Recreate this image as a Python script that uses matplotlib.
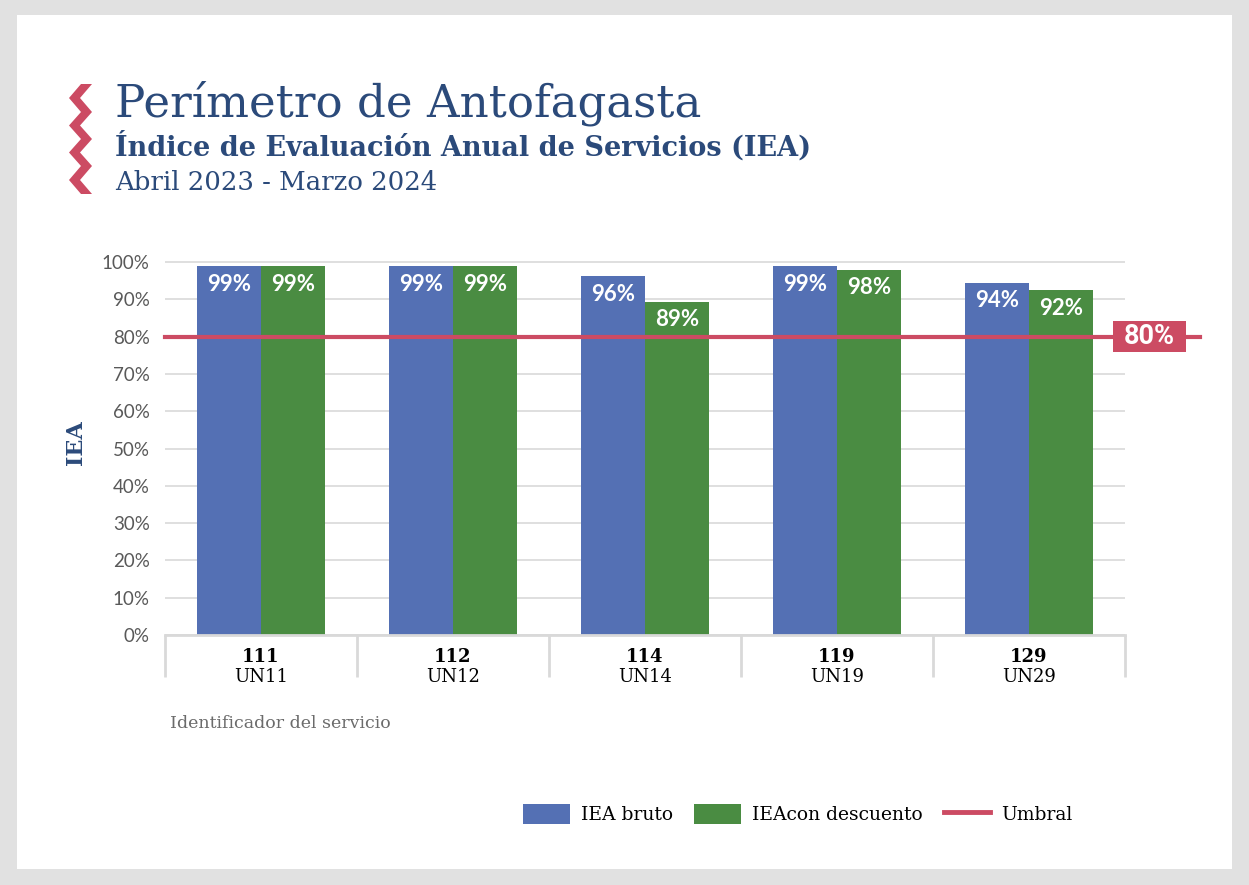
import numpy as np
import matplotlib
matplotlib.use("Agg")
import matplotlib.pyplot as plt
from matplotlib.patches import Rectangle, Polygon, Patch
from matplotlib.lines import Line2D
from matplotlib.ticker import MultipleLocator, PercentFormatter

# data
service_ids = ["111", "112", "114", "119", "129"]
service_units = ["UN11", "UN12", "UN14", "UN19", "UN29"]
iea_bruto = [0.989, 0.989, 0.962, 0.989, 0.944]
iea_descuento = [0.988, 0.988, 0.893, 0.979, 0.924]
umbral = 0.80

BLUE = "#5470b4"
GREEN = "#4a8c42"
RED = "#cc4b63"
NAVY = "#2b4a7a"
GRID = "#d9d9d9"
TICK_GRAY = "#595959"

W, H = 1249, 885
SERIF = "DejaVu Serif"


def fx(px):
    return px / W


def fy(py):
    return 1 - py / H


fig = plt.figure(figsize=(W / 100, H / 100), dpi=100, facecolor="#e1e1e1")

# white panel
fig.patches.append(Rectangle((fx(17), fy(869)), fx(1232) - fx(17), fy(15) - fy(869),
                             transform=fig.transFigure, facecolor="white", edgecolor="none", zorder=-5))

# red zigzag decoration
zig_y = [84, 98, 112, 125.5, 139, 152.5, 166, 180, 194]
right_edge = [(92 if i % 2 == 0 else 80, y) for i, y in enumerate(zig_y)]
left_edge = [(81 if i % 2 == 0 else 69, y) for i, y in enumerate(zig_y)]
pts = right_edge + left_edge[::-1]
fig.patches.append(Polygon([(fx(x), fy(y)) for x, y in pts], closed=True,
                           transform=fig.transFigure, facecolor=RED, edgecolor="none", zorder=-4))

# titles
fig.text(fx(115), fy(103), "Perímetro de Antofagasta", family=SERIF, fontsize=32.5,
         color=NAVY, va="center", ha="left")
fig.text(fx(115), fy(146), "Índice de Evaluación Anual de Servicios (IEA)", family=SERIF,
         fontsize=19.5, color=NAVY, va="center", ha="left", fontweight="bold")
fig.text(fx(115), fy(183), "Abril 2023 - Marzo 2024", family=SERIF, fontsize=18.7,
         color=NAVY, va="center", ha="left")

# axes: 0% at y=635 px, 100% at y=262 px
ymax = 1.03
ax_left, ax_right = 165, 1125
ax_bottom = 635
ax_h = (635 - 262) * ymax
ax = fig.add_axes([fx(ax_left), fy(ax_bottom), fx(ax_right - ax_left), ax_h / H])
ax.set_facecolor("none")

x = np.arange(len(service_ids))
bw = 1 / 3
b1 = ax.bar(x - bw / 2, iea_bruto, width=bw, color=BLUE, zorder=3)
b2 = ax.bar(x + bw / 2, iea_descuento, width=bw, color=GREEN, zorder=3)

for bars, vals in ((b1, iea_bruto), (b2, iea_descuento)):
    for rect, v in zip(bars, vals):
        ax.annotate(f"{v * 100:.0f}%", (rect.get_x() + rect.get_width() / 2, v),
                    xytext=(0, -13), textcoords="offset points", ha="center", va="center",
                    color="white", fontsize=16, fontweight="bold", family="Lato",
                    zorder=5)

ax.set_xlim(-0.5, len(service_ids) - 0.5)
ax.set_ylim(0, ymax)
ax.yaxis.set_major_locator(MultipleLocator(0.1))
ax.yaxis.set_major_formatter(PercentFormatter(1.0, decimals=0))
ax.grid(axis="y", color=GRID, linewidth=1.2, zorder=0)
ax.tick_params(axis="y", length=0, pad=11, labelsize=13.5, labelcolor=TICK_GRAY)
for lab in ax.get_yticklabels():
    lab.set_family("Lato")

for s in ("top", "right", "left"):
    ax.spines[s].set_visible(False)
ax.spines["bottom"].set_color(GRID)
ax.spines["bottom"].set_linewidth(2)
ax.spines["bottom"].set_zorder(4)

# category separators as long minor ticks
ax.set_xticks(x)
ax.set_xticklabels([])
ax.set_xticks(np.arange(len(service_ids) + 1) - 0.5, minor=True)
ax.tick_params(axis="x", which="major", length=0)
ax.tick_params(axis="x", which="minor", length=30, width=2, color=GRID, direction="out")

px_ax = 1 / ax_h
for i, (sid, un) in enumerate(zip(service_ids, service_units)):
    ax.text(i, -22 * px_ax, sid, transform=ax.get_xaxis_transform(), ha="center", va="center",
            fontsize=13, fontweight="bold", family=SERIF, color="black")
    ax.text(i, -42 * px_ax, un, transform=ax.get_xaxis_transform(), ha="center", va="center",
            fontsize=13, family=SERIF, color="black")

ax.set_ylabel("IEA", family=SERIF, fontweight="bold", fontsize=16, color=NAVY, labelpad=11)

# threshold line and tag
ax.axhline(umbral, xmin=0, xmax=(1200 - ax_left) / (ax_right - ax_left), color=RED,
           linewidth=3, clip_on=False, zorder=4)
tag_x = (1149 - ax_left) / (ax_right - ax_left)
tag_w = 73 / (ax_right - ax_left)
tag_h = 31 / (635 - 262)
ax.add_patch(Rectangle((tag_x - tag_w / 2, umbral - tag_h / 2), tag_w, tag_h,
                       transform=ax.get_yaxis_transform(), facecolor=RED, edgecolor="none",
                       clip_on=False, zorder=5))
ax.text(tag_x, umbral, f"{umbral * 100:.0f}%",
        transform=ax.get_yaxis_transform(), ha="center", va="center", color="white",
        fontsize=19.5, fontweight="bold", family="Roboto", zorder=6)

fig.text(fx(170), fy(723), "Identificador del servicio", family=SERIF, fontsize=12.5,
         color="#6b6b6b", va="center", ha="left")

handles = [Patch(facecolor=BLUE, edgecolor="none"),
           Patch(facecolor=GREEN, edgecolor="none"),
           Line2D([], [], color=RED, linewidth=3.5)]
fig.legend(handles, ["IEA bruto", "IEAcon descuento", "Umbral"], loc="center",
           bbox_to_anchor=(fx(798), fy(814)), ncol=3, frameon=False,
           prop=dict(family=SERIF, size=13.5), handlelength=2.5, handleheight=1.23,
           handletextpad=0.6, columnspacing=1.1)

fig.savefig("out.png", dpi=100, facecolor=fig.get_facecolor())
